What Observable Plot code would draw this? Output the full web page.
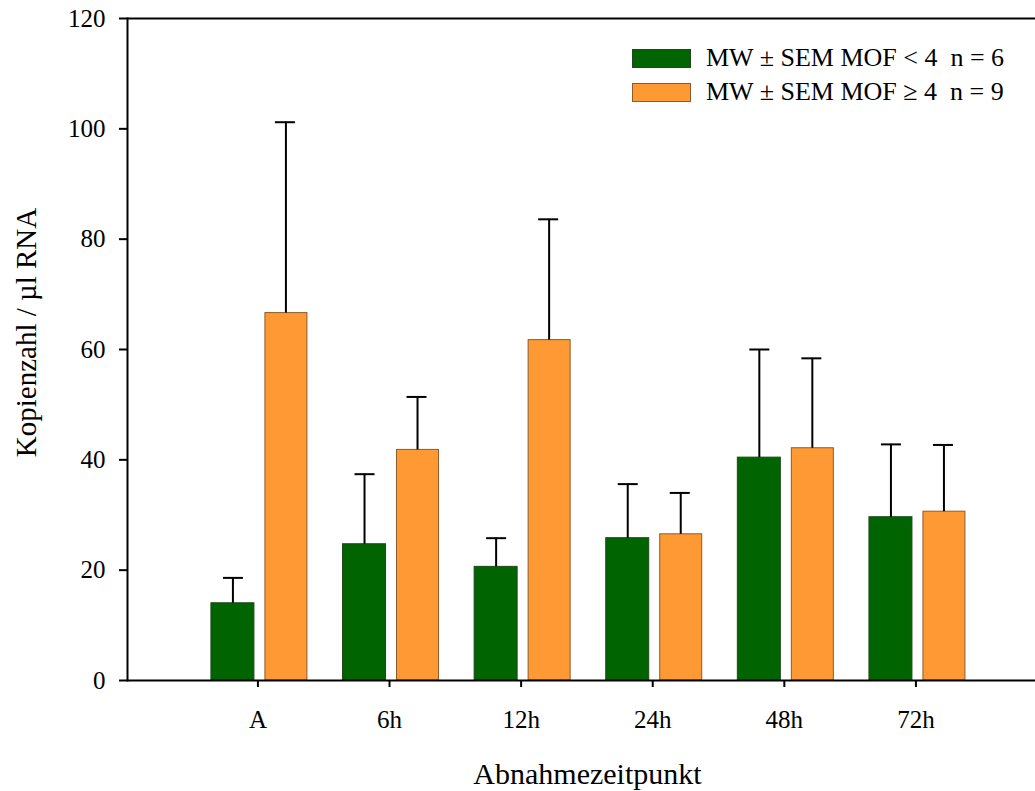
<!DOCTYPE html>
<html>
<head>
<meta charset="utf-8">
<script src="https://cdn.jsdelivr.net/npm/d3@7"></script>
<script src="https://cdn.jsdelivr.net/npm/@observablehq/plot@0.6"></script>
<style>
  html, body { margin: 0; padding: 0; background: white; }
  #wrap { position: relative; width: 1035px; height: 791px; }
  #legend { position: absolute; left: 632px; top: 48px; font-family: "Liberation Serif", serif; font-size: 26px; color: black; }
  .row { display: flex; align-items: center; height: 20px; margin-bottom: 14px; white-space: pre; }
  .sw { width: 59px; height: 19px; box-sizing: border-box; margin-right: 15px; }
</style>
</head>
<body>
<div id="wrap">
  <div id="chart"></div>
  <div id="legend"></div>
</div>
<script>
const categories = ["A", "6h", "12h", "24h", "48h", "72h"];
const meanLow = [14.0, 24.7, 20.6, 25.8, 40.4, 29.6];
const upperLow = [18.6, 37.4, 25.8, 35.6, 60.0, 42.8];
const meanHigh = [66.6, 41.8, 61.7, 26.5, 42.1, 30.6];
const upperHigh = [101.2, 51.4, 83.6, 34.0, 58.4, 42.7];
const yTicks = [0, 20, 40, 60, 80, 100, 120];
const seriesNames = ["MW ± SEM MOF < 4  n = 6", "MW ± SEM MOF ≥ 4  n = 9"];
const seriesFill = ["#006400", "#ff9933"];
const seriesStroke = ["#1d4a1d", "#8f5a2a"];

const low = categories.map((c, i) => ({cat: c, mean: meanLow[i], upper: upperLow[i]}));
const high = categories.map((c, i) => ({cat: c, mean: meanHigh[i], upper: upperHigh[i]}));

const chart = Plot.plot({
  width: 1035,
  height: 791,
  marginTop: 18,
  marginBottom: 111,
  marginLeft: 127,
  marginRight: 0,
  style: {fontFamily: "Liberation Serif", fontSize: "25px", color: "black", background: "white"},
  x: {domain: categories, paddingInner: 0.2705, paddingOuter: 0.585, align: 0.545, round: false, label: null},
  y: {domain: [0, 120], label: null},
  marks: [
    Plot.barY(low, {x: "cat", y: "mean", fill: seriesFill[0], stroke: seriesStroke[0], strokeWidth: 1, insetRight: 53}),
    Plot.barY(high, {x: "cat", y: "mean", fill: seriesFill[1], stroke: seriesStroke[1], strokeWidth: 1, insetLeft: 54}),
    Plot.ruleX(low, {x: "cat", y1: "mean", y2: "upper", dx: -26.5, stroke: "black", strokeWidth: 2}),
    Plot.ruleX(high, {x: "cat", y1: "mean", y2: "upper", dx: 26.5, stroke: "black", strokeWidth: 2}),
    Plot.tickY(low, {x: "cat", y: "upper", insetLeft: 12, insetRight: 64, stroke: "black", strokeWidth: 2}),
    Plot.tickY(high, {x: "cat", y: "upper", insetLeft: 64, insetRight: 12, stroke: "black", strokeWidth: 2}),
    Plot.axisY({ticks: yTicks, tickSize: 8, tickPadding: 14, strokeWidth: 2, fontSize: 25, label: null, fill: "black"}),
    Plot.axisX({tickSize: 7, tickPadding: 23, strokeWidth: 2, fontSize: 25, label: null, fill: "black", dx: -1.5}),
    Plot.ruleY([0, 120], {stroke: "black", strokeWidth: 2}),
    Plot.frame({anchor: "left", stroke: "black", strokeWidth: 2}),
    Plot.text(["Kopienzahl / µl RNA"], {frameAnchor: "left", textAnchor: "middle", lineAnchor: "middle", rotate: -90, dx: -101, dy: -17, fontSize: 29, fill: "black"}),
    Plot.text(["Abnahmezeitpunkt"], {frameAnchor: "bottom", textAnchor: "middle", lineAnchor: "bottom", dx: 6, dy: 103, fontSize: 30, fill: "black"})
  ]
});
document.getElementById("chart").appendChild(chart);

const legend = document.getElementById("legend");
seriesNames.forEach((name, i) => {
  const row = document.createElement("div");
  row.className = "row";
  const sw = document.createElement("div");
  sw.className = "sw";
  sw.style.background = seriesFill[i];
  sw.style.border = "1px solid " + seriesStroke[i];
  const t = document.createElement("span");
  t.textContent = name;
  row.appendChild(sw);
  row.appendChild(t);
  legend.appendChild(row);
});
</script>
</body>
</html>
